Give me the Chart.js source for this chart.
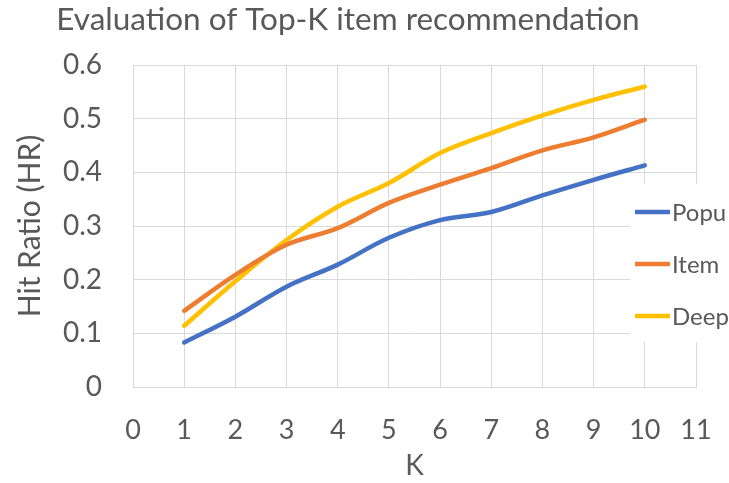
<!DOCTYPE html>
<html>
<head>
<meta charset="utf-8">
<script src="https://cdn.jsdelivr.net/npm/chart.js@4/dist/chart.umd.min.js"></script>
<style>
  html, body { margin: 0; padding: 0; background: #ffffff; }
  #wrap { width: 729px; height: 483px; }
</style>
</head>
<body>
<div id="wrap"><canvas id="c" width="729" height="483"></canvas></div>
<script>
// K values and hit ratios for each recommender
const kValues = [1, 2, 3, 4, 5, 6, 7, 8, 9, 10];
const popu = [0.083, 0.131, 0.187, 0.228, 0.278, 0.311, 0.326, 0.357, 0.386, 0.413];
const item = [0.142, 0.209, 0.265, 0.296, 0.343, 0.377, 0.408, 0.441, 0.465, 0.498];
const deep = [0.114, 0.197, 0.274, 0.336, 0.380, 0.436, 0.473, 0.506, 0.535, 0.560];
const seriesNames = ['Popu', 'Item', 'Deep'];
const seriesColors = ['#4472C4', '#ED7D31', '#FFC000'];
const xTicks = [0, 1, 2, 3, 4, 5, 6, 7, 8, 9, 10, 11];
const yTicks = [0, 0.1, 0.2, 0.3, 0.4, 0.5, 0.6];

const FONT = 'Lato, "Open Sans", sans-serif';
const TEXT = '#595959';
const GRID = '#d9d9d9';

const toPoints = vals => vals.map((v, i) => ({ x: kValues[i], y: v }));

// Legend box that floats over the right edge of the plot
const floatingLegend = {
  id: 'floatingLegend',
  beforeDatasetsDraw(chart) {
    const { ctx } = chart;
    ctx.save();
    ctx.fillStyle = '#ffffff';
    ctx.fillRect(630, 184, 99, 158);
    ctx.restore();
  },
  afterDraw(chart) {
    const { ctx } = chart;
    ctx.save();
    chart.data.datasets.forEach((ds, i) => {
      const y = 212 + i * 52;
      ctx.strokeStyle = ds.borderColor;
      ctx.lineWidth = 4.5;
      ctx.beginPath();
      ctx.moveTo(635, y);
      ctx.lineTo(670, y);
      ctx.stroke();
      ctx.fillStyle = TEXT;
      ctx.font = '24px ' + FONT;
      ctx.textBaseline = 'middle';
      ctx.textAlign = 'left';
      ctx.fillText(ds.label, 672, y + 1);
    });
    ctx.restore();
  }
};

new Chart(document.getElementById('c'), {
  type: 'line',
  data: {
    datasets: [
      { label: seriesNames[0], data: toPoints(popu), borderColor: seriesColors[0] },
      { label: seriesNames[1], data: toPoints(item), borderColor: seriesColors[1] },
      { label: seriesNames[2], data: toPoints(deep), borderColor: seriesColors[2] }
    ]
  },
  options: {
    responsive: false,
    animation: false,
    layout: { padding: { left: 0, right: 33, top: 0, bottom: 0 } },
    elements: {
      line: { borderWidth: 4.5, tension: 0.35, fill: false, borderCapStyle: 'round' },
      point: { radius: 0, hoverRadius: 0 }
    },
    plugins: {
      legend: { display: false },
      tooltip: { enabled: false },
      title: {
        display: true,
        text: 'Evaluation of Top-K item recommendation',
        color: TEXT,
        font: { family: FONT, size: 31.5, weight: 'normal' },
        padding: { top: 1, bottom: 26.2 }
      }
    },
    scales: {
      x: {
        type: 'linear',
        min: 0,
        max: 11,
        afterBuildTicks: s => { s.ticks = xTicks.map(v => ({ value: v })); },
        afterFit: s => { s.height = 96; s.paddingLeft = 0; s.paddingRight = 0; },
        grid: { color: GRID, drawTicks: false, lineWidth: 1 },
        border: { color: GRID },
        ticks: { color: TEXT, font: { family: FONT, size: 27 }, padding: 27, maxRotation: 0, autoSkip: false },
        title: { display: true, text: 'K', color: TEXT, font: { family: FONT, size: 28 }, padding: { top: 0, bottom: 0 } }
      },
      y: {
        min: 0,
        max: 0.6,
        afterBuildTicks: s => { s.ticks = yTicks.map(v => ({ value: v })); },
        afterFit: s => { s.width = 133; },
        grid: { color: GRID, drawTicks: false, lineWidth: 1 },
        border: { display: false },
        ticks: { color: TEXT, font: { family: FONT, size: 28 }, padding: 31, callback: v => String(Math.round(v * 10) / 10) },
        title: { display: true, text: 'Hit Ratio (HR)', color: TEXT, font: { family: FONT, size: 30 }, padding: { top: 12, bottom: 0 } }
      }
    }
  },
  plugins: [floatingLegend]
});
</script>
</body>
</html>
